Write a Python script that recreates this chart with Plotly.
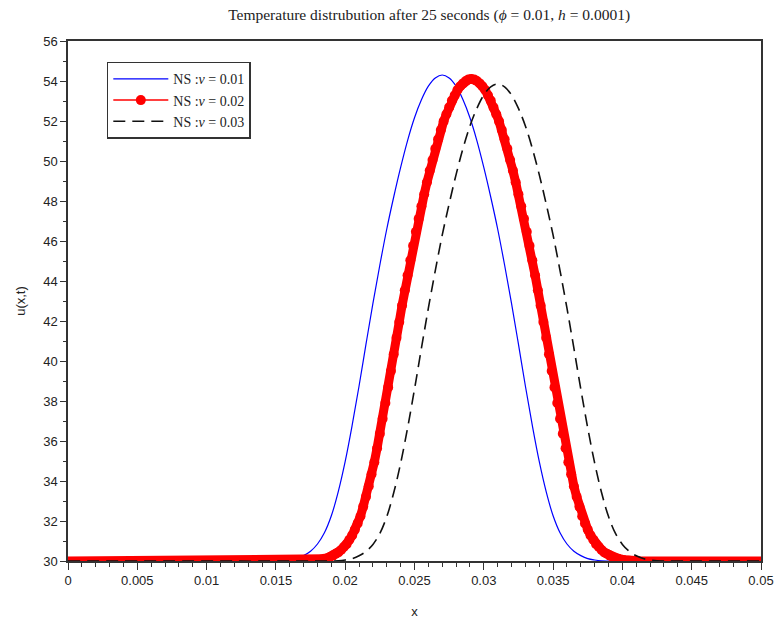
import plotly.graph_objects as go

# ---------------- data ----------------
h = 0.0002  # sampling step used for the nu = 0.02 curve (markers)

# nu = 0.01 (blue): x samples 0.015 .. 0.039 every 0.0005, plus the two ends
x_blue = [0.0] + [round(0.015 + 0.0005 * i, 5) for i in range(49)] + [0.05]
y_blue = [30.00,
          30.00, 30.01, 30.05, 30.12, 30.27, 30.49, 30.85, 31.41, 32.26, 33.47,
          34.98, 36.78, 38.75, 40.84, 42.88, 44.80, 46.60, 48.20, 49.68, 51.02,
          52.16, 53.06, 53.74, 54.15, 54.30,
          54.15, 53.74, 53.06, 52.16, 51.02, 49.68, 48.20, 46.60, 44.80, 42.88,
          40.84, 38.75, 36.78, 34.98, 33.47, 32.26, 31.41, 30.85, 30.49, 30.27,
          30.12, 30.05, 30.01, 30.00,
          30.00]

# nu = 0.02 (red, markers): x samples 0.0171 .. 0.0411 every 0.0002
y_red = [30.00, 30.00, 30.01, 30.02, 30.03, 30.05, 30.07, 30.11, 30.14, 30.20,
         30.27, 30.35, 30.43, 30.55, 30.70, 30.84, 31.06, 31.28, 31.57, 31.88,
         32.24, 32.72, 33.21, 33.74, 34.34, 34.94, 35.64, 36.36, 37.11, 37.90,
         38.68, 39.50, 40.34, 41.16, 41.95, 42.77, 43.54, 44.29, 45.04, 45.76,
         46.46, 47.11, 47.74, 48.34, 48.94, 49.52, 50.05, 50.61, 51.09, 51.55,
         51.98, 52.34, 52.68, 53.02, 53.28, 53.55, 53.74, 53.88, 54.00, 54.08,
         54.10,
         54.08, 54.00, 53.88, 53.74, 53.55, 53.28, 53.02, 52.68, 52.34, 51.98,
         51.55, 51.09, 50.61, 50.05, 49.52, 48.94, 48.34, 47.74, 47.11, 46.46,
         45.76, 45.04, 44.29, 43.54, 42.77, 41.95, 41.16, 40.34, 39.50, 38.68,
         37.90, 37.11, 36.36, 35.64, 34.94, 34.34, 33.74, 33.21, 32.72, 32.24,
         31.88, 31.57, 31.28, 31.06, 30.84, 30.70, 30.55, 30.43, 30.35, 30.27,
         30.20, 30.14, 30.11, 30.07, 30.05, 30.03, 30.02, 30.01, 30.00, 30.00]
x_red = [round(0.0171 + h * i, 5) for i in range(len(y_red))]
x_red_full = [0.0] + x_red + [0.05]
y_red_full = [30.0] + y_red + [30.0]

# nu = 0.03 (black dashed): x samples 0.019 .. 0.043 every 0.0005, plus ends
x_black = [0.0] + [round(0.019 + 0.0005 * i, 5) for i in range(49)] + [0.05]
y_black = [30.00,
           30.00, 30.01, 30.05, 30.12, 30.26, 30.48, 30.83, 31.38, 32.22, 33.41,
           34.89, 36.65, 38.59, 40.64, 42.64, 44.52, 46.29, 47.86, 49.32, 50.63,
           51.75, 52.63, 53.30, 53.71, 53.85,
           53.71, 53.30, 52.63, 51.75, 50.63, 49.32, 47.86, 46.29, 44.52, 42.64,
           40.64, 38.59, 36.65, 34.89, 33.41, 32.22, 31.38, 30.83, 30.48, 30.26,
           30.12, 30.05, 30.01, 30.00,
           30.00]

names = ["NS :<i>ν</i> = 0.01", "NS :<i>ν</i> = 0.02", "NS :<i>ν</i> = 0.03"]
x_ticks = [0, 0.005, 0.01, 0.015, 0.02, 0.025, 0.03, 0.035, 0.04, 0.045, 0.05]
x_ticklabels = ["0", "0.005", "0.01", "0.015", "0.02", "0.025", "0.03",
                "0.035", "0.04", "0.045", "0.05"]
y_ticks = list(range(30, 57, 2))

title_text = ("Temperature distrubution after 25 seconds "
              "(<i>ϕ</i> = 0.01, <i>h</i> = 0.0001)")

# ---------------- figure ----------------
fig = go.Figure()

fig.add_trace(go.Scatter(
    x=x_blue, y=y_blue, mode="lines", name=names[0],
    line=dict(color="#0000ff", width=1.2, shape="spline"),
))
# thick body of the red curve (no legend entry)
fig.add_trace(go.Scatter(
    x=x_red_full, y=y_red_full, mode="lines", showlegend=False,
    line=dict(color="#ff0000", width=9), hoverinfo="skip",
))
fig.add_trace(go.Scatter(
    x=x_red, y=y_red, mode="lines+markers", name=names[1],
    line=dict(color="#ff0000", width=1.5),
    marker=dict(color="#ff0000", size=10, line=dict(width=0)),
))
fig.add_trace(go.Scatter(
    x=x_black, y=y_black, mode="lines", name=names[2],
    line=dict(color="#111111", width=1.6, shape="spline", dash="12px,7px"),
))

axis_common = dict(
    showline=True, linecolor="#333333", linewidth=1.5, mirror=True,
    showgrid=False, zeroline=False, ticks="outside", tickcolor="#333333",
    automargin=False,
    tickfont=dict(family="Liberation Sans, Arial, sans-serif", size=13,
                  color="#222222"),
)

fig.update_xaxes(
    range=[0, 0.05], tickvals=x_ticks, ticktext=x_ticklabels, ticklen=7,
    minor=dict(dtick=0.001, ticklen=4, ticks="outside", tickcolor="#333333"),
    title=dict(text="x", standoff=20,
               font=dict(family="Liberation Sans, Arial, sans-serif",
                         size=13, color="#222222")),
    **axis_common,
)
fig.update_yaxes(
    range=[30, 56], tickvals=y_ticks, ticklen=6,
    minor=dict(dtick=1, ticklen=3, ticks="outside", tickcolor="#333333"),
    title=dict(text="u(x,t)", standoff=15,
               font=dict(family="Liberation Sans, Arial, sans-serif",
                         size=13, color="#222222")),
    **axis_common,
)

fig.update_layout(
    width=776, height=624,
    margin=dict(l=68, r=15, t=41, b=63),
    paper_bgcolor="white", plot_bgcolor="white",
    title=dict(text=title_text, x=0.553, xanchor="center",
               y=0.976, yanchor="middle",
               font=dict(family="Liberation Serif, Times New Roman, serif",
                         size=15.5, color="#222222")),
    legend=dict(x=0.056, y=0.96, xanchor="left", yanchor="top",
                bgcolor="white", bordercolor="#333333", borderwidth=1.5,
                font=dict(family="Liberation Serif, Times New Roman, serif",
                          size=14, color="#222222"),
                itemwidth=55, tracegroupgap=0),
    showlegend=True,
)

fig.write_html("out.html")
